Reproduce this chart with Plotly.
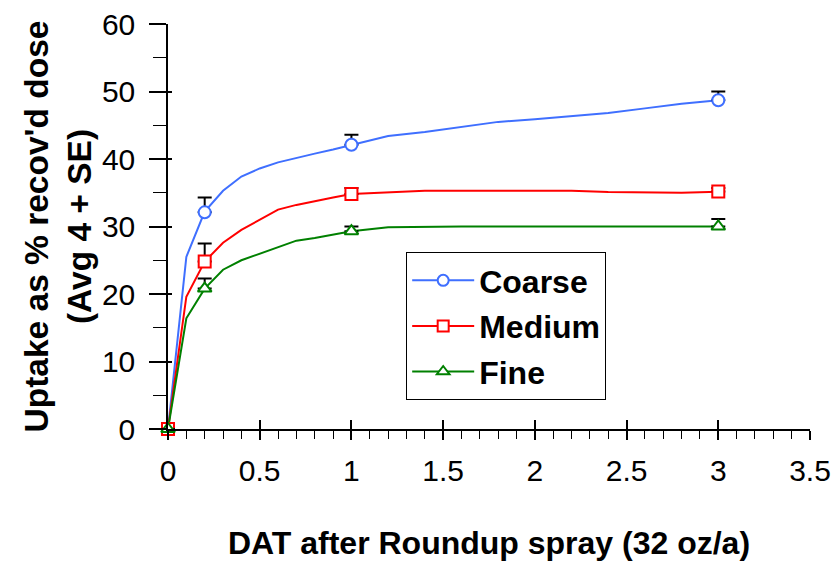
import plotly.graph_objects as go

# measured data points (DAT) with upper SE
days = [0, 0.2, 1, 3]
coarse = [0, 32.1, 42.1, 48.7]
coarse_se = [0, 2.2, 1.5, 1.3]
medium = [0, 24.8, 34.8, 35.2]
medium_se = [0, 2.7, 0.9, 0.5]
fine = [0, 20.8, 29.3, 30.0]
fine_se = [0, 1.5, 0.7, 1.1]

# fitted curve values
curve_days = [0, 0.1, 0.2, 0.3, 0.4, 0.5, 0.6, 0.7, 0.8, 0.9, 1.0,
              1.2, 1.4, 1.6, 1.8, 2.0, 2.2, 2.4, 2.6, 2.8, 3.0]
coarse_curve = [0, 25.5, 32.2, 35.3, 37.4, 38.6, 39.5, 40.2, 40.8, 41.4, 42.1,
                43.4, 44.0, 44.7, 45.5, 45.9, 46.4, 46.8, 47.5, 48.2, 48.7]
medium_curve = [0, 19.6, 24.8, 27.6, 29.5, 31.0, 32.5, 33.2, 33.8, 34.3, 34.8,
                35.1, 35.3, 35.3, 35.3, 35.3, 35.3, 35.1, 35.0, 35.0, 35.15]
fine_curve = [0, 16.4, 20.8, 23.6, 25.0, 26.0, 27.0, 27.9, 28.3, 28.8, 29.3,
              29.9, 30.0, 30.0, 30.0, 30.0, 30.0, 30.0, 30.0, 30.0, 30.0]

x_ticks = [0, 0.5, 1, 1.5, 2, 2.5, 3, 3.5]
x_tick_labels = ["0", "0.5", "1", "1.5", "2", "2.5", "3", "3.5"]
y_ticks = [0, 10, 20, 30, 40, 50, 60]

series = [
    ("Coarse", coarse, coarse_se, coarse_curve, "#3F6FFF", "circle"),
    ("Medium", medium, medium_se, medium_curve, "#FF0000", "square"),
    ("Fine", fine, fine_se, fine_curve, "#008000", "triangle-up"),
]

FONT = "Liberation Sans, Arial, sans-serif"

fig = go.Figure()

for name, vals, se, curve, color, sym in series:
    fig.add_trace(go.Scatter(
        x=curve_days, y=curve, mode="lines", line=dict(color=color, width=2),
        showlegend=False, hoverinfo="skip", cliponaxis=False))

for name, vals, se, curve, color, sym in series:
    fig.add_trace(go.Scatter(
        x=days, y=vals, mode="markers",
        marker=dict(symbol=sym, size=12, color="white",
                    line=dict(color=color, width=2)),
        error_y=dict(type="data", array=se, arrayminus=[0] * len(se),
                     symmetric=False, color="black", thickness=2, width=7),
        showlegend=False, cliponaxis=False))

for name, vals, se, curve, color, sym in series:
    fig.add_trace(go.Scatter(
        x=[None], y=[None], mode="lines+markers", name="<b>" + name + "</b>",
        line=dict(color=color, width=2),
        marker=dict(symbol=sym, size=11, color="white",
                    line=dict(color=color, width=2)),
        legendgroup=name, xaxis="x2", yaxis="y2"))

fig.update_layout(
    width=835, height=561,
    margin=dict(l=168, r=25, t=24, b=132),
    paper_bgcolor="white", plot_bgcolor="white",
    font=dict(family=FONT, color="black", size=28),
    xaxis=dict(
        range=[0, 3.5], tickvals=x_ticks, ticktext=x_tick_labels,
        showgrid=False, zeroline=False, showline=True, linecolor="black", linewidth=1.5,
        ticks="outside", ticklen=9, tickwidth=1.5, tickcolor="black",
        tickfont=dict(size=30, family=FONT), ticklabelstandoff=5,
        minor=dict(dtick=0.1, ticks="outside", ticklen=8, tickwidth=1.2, tickcolor="black", showgrid=False),
        title=dict(text="<b>DAT after Roundup spray (32 oz/a)</b>", font=dict(size=32, family=FONT), standoff=52),
        automargin=False,
    ),
    yaxis=dict(
        range=[0, 60], tickvals=y_ticks,
        showgrid=False, zeroline=False, showline=True, linecolor="black", linewidth=1.5,
        ticks="outside", ticklen=17, tickwidth=1.5, tickcolor="black",
        tickfont=dict(size=30, family=FONT), ticklabelstandoff=8,
        minor=dict(dtick=5, ticks="outside", ticklen=13, tickwidth=1.2, tickcolor="black", showgrid=False),
        title=dict(text="<b>Uptake as % recov'd dose<br>(Avg 4 + SE)</b>", font=dict(size=33.5, family=FONT), standoff=0),
        automargin=False,
    ),
    xaxis2=dict(range=[0, 3.5], overlaying="x", anchor="y2", tickvals=x_ticks,
                showticklabels=False, ticks="inside", ticklen=9, tickwidth=1.5, tickcolor="black",
                showgrid=False, zeroline=False, showline=False),
    yaxis2=dict(range=[0, 60], overlaying="y", anchor="x2", tickvals=y_ticks,
                showticklabels=False, ticks="inside", ticklen=4, tickwidth=1.5, tickcolor="black",
                showgrid=False, zeroline=False, showline=False),
    legend=dict(x=0.371, y=0.437, xanchor="left", yanchor="top",
                bgcolor="white", bordercolor="black", borderwidth=1,
                font=dict(size=32, family=FONT), tracegroupgap=1,
                itemwidth=62),
    showlegend=True,
)

fig.write_html("out.html")
